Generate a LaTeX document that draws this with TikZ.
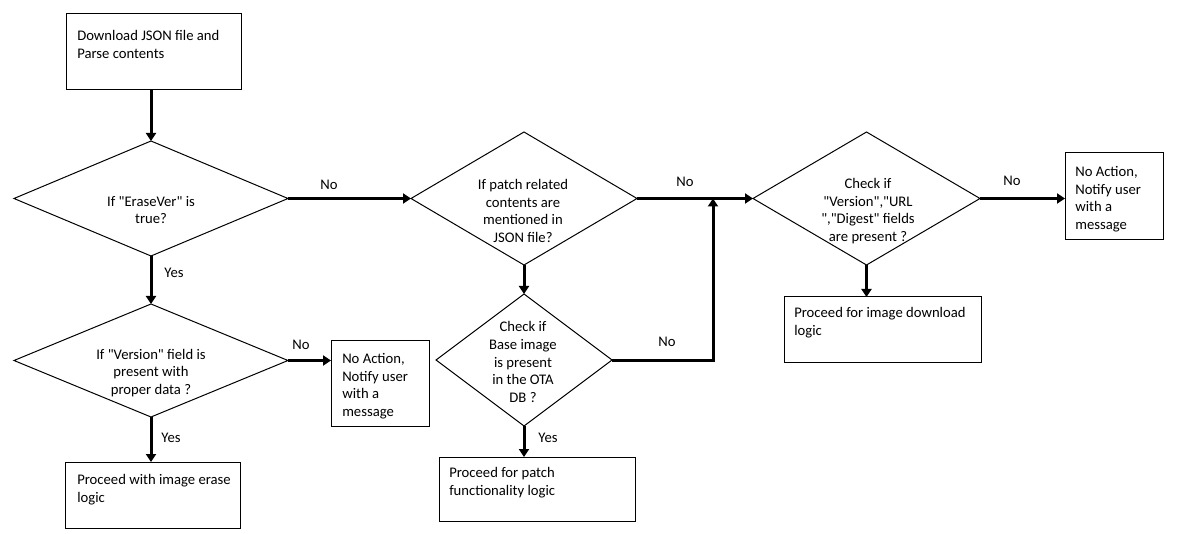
\documentclass[tikz,border=0pt]{standalone}
\usepackage{fontspec}
\setmainfont{Carlito}
\usetikzlibrary{shapes.geometric,arrows.meta}
\newcommand\qd{\textquotedbl}
\begin{document}
\begin{tikzpicture}[x=0.75pt,y=-0.75pt,
  every node/.style={font=\fontsize{11pt}{13.3pt}\selectfont},
  boxn/.style={draw=black,line width=0.75pt,rectangle,inner sep=0pt,outer sep=0pt},
  dia/.style={draw=black,line width=0.75pt,diamond,inner sep=0pt,outer sep=0pt},
  txt/.style={inner sep=0pt,align=left,anchor=north west},
  dtxt/.style={inner sep=0pt,align=center},
  lbl/.style={inner sep=0pt},
  arr/.style={line width=2.25pt,-{Triangle[length=6pt,width=7.5pt]}}
]
\useasboundingbox[fill=white] (0,0) rectangle (1198,534);
% boxes
\node[boxn,minimum width=131.25pt,minimum height=57pt] (B1) at (153.5,52) {};
\node[boxn,minimum width=73.5pt,minimum height=64.5pt] (NA1) at (380,383) {};
\node[boxn,minimum width=131.25pt,minimum height=49.5pt] (E) at (152.5,495) {};
\node[boxn,minimum width=147pt,minimum height=48pt] (P) at (537,489) {};
\node[boxn,minimum width=147.75pt,minimum height=48.75pt] (DL) at (882.5,329.5) {};
\node[boxn,minimum width=73.5pt,minimum height=65.25pt] (NA2) at (1114,196.5) {};
% box texts
\node[txt] (tB1) at (77,30) {Download JSON file and\\Parse contents};
\node[txt] (tNA1) at (342,353) {No Action,\\Notify user\\with a\\message};
\node[txt] (tE) at (77,474) {Proceed with image erase\\logic};
\node[txt] (tP) at (449,467) {Proceed for patch\\functionality logic};
\node[txt] (tDL) at (794,307) {Proceed for image download\\logic};
\node[txt] (tNA2) at (1075,166) {No Action,\\Notify user\\with a\\message};
% diamonds
\node[dia,minimum width=205.5pt,minimum height=86.25pt] (D1) at (151,198.5) {};
\node[dia,minimum width=169.5pt,minimum height=99.75pt] (D2) at (524,198.5) {};
\node[dia,minimum width=205.5pt,minimum height=84.75pt] (D3) at (151,360.5) {};
\node[dia,minimum width=132pt,minimum height=99pt] (D4) at (524,360) {};
\node[dia,minimum width=170.25pt,minimum height=99.75pt] (D5) at (866.5,198.5) {};
% diamond texts
\node[dtxt] (tD1) at (151,210) {If \qd EraseVer\qd{} is\\true?};
\node[dtxt] (tD2) at (523,211) {If patch related\\contents are\\mentioned in\\JSON file?};
\node[dtxt] (tD3) at (151,373) {If \qd Version\qd{} field is\\present with\\proper data ?};
\node[dtxt] (tD4) at (523,362) {Check if\\Base image\\is present\\in the OTA\\DB ?};
\node[dtxt] (tD5) at (868,211) {Check if\\\qd Version\qd,\qd URL\\\qd,\qd Digest\qd{} fields\\are present ?};
% connectors
\coordinate (J) at (713,198.5);
\draw[arr] (D1.north |- B1.south) -- (D1.north);
\draw[arr] (D1.east) -- (D2.west);
\draw[arr] (D1.south) -- (D3.north);
\draw[arr] (D3.east) -- (D3.east -| NA1.west);
\draw[arr] (D3.south) -- (D3.south |- E.north);
\draw[arr] (D2.east) -- (D5.west);
\draw[arr] (D2.south) -- (D4.north);
\draw[arr] (D4.east) -| (J);
\draw[arr] (D4.south) -- (D4.south |- P.north);
\draw[arr] (D5.east) -- (D5.east -| NA2.west);
\draw[arr] (D5.south) -- (D5.south |- DL.north);
% labels
\node[lbl] (l1) at (329,185) {No};
\node[lbl] (l2) at (174,273) {Yes};
\node[lbl] (l3) at (301,345) {No};
\node[lbl] (l4) at (171,438) {Yes};
\node[lbl] (l5) at (685,182) {No};
\node[lbl] (l6) at (667,342) {No};
\node[lbl] (l7) at (548,438) {Yes};
\node[lbl] (l8) at (1012,181) {No};
\end{tikzpicture}
\end{document}
